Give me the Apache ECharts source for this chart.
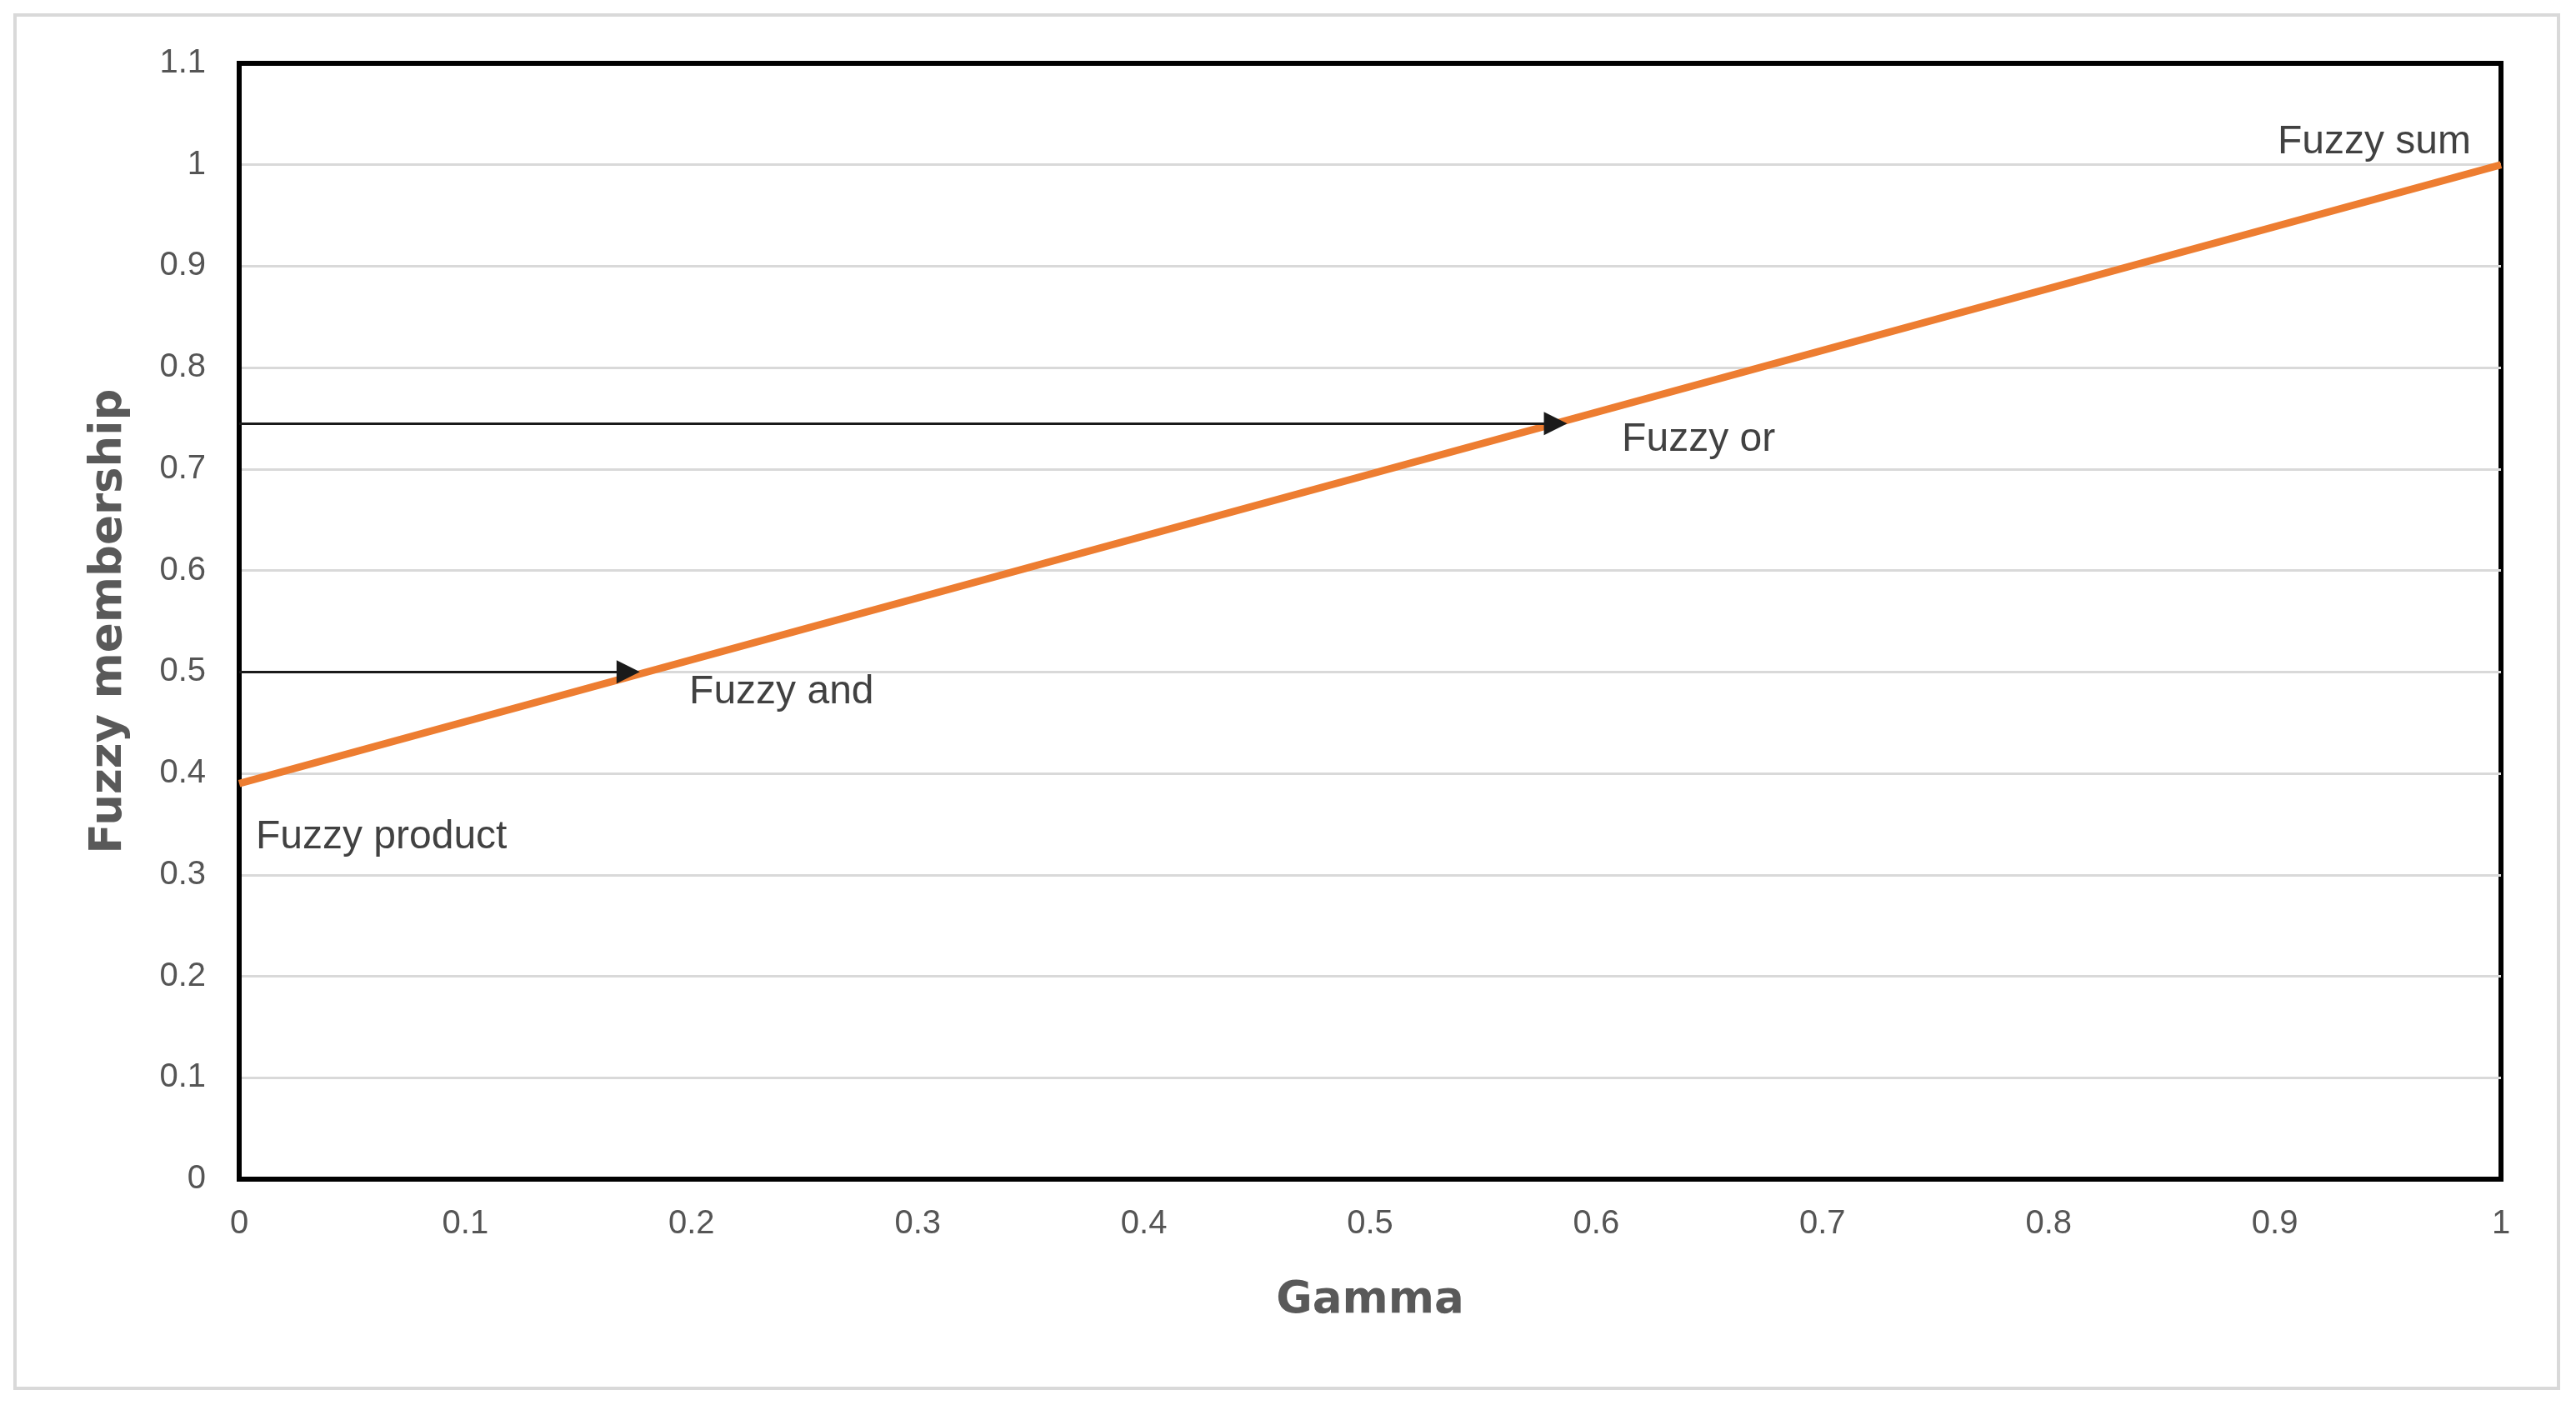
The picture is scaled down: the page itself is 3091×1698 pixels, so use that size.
<!DOCTYPE html>
<html>
<head>
<meta charset="utf-8">
<script src="https://cdn.jsdelivr.net/npm/echarts@6/dist/echarts.min.js"></script>
<style>
  html, body { margin: 0; padding: 0; background: #fff; }
  #fuzzyChart { width: 3091px; height: 1698px; }
</style>
</head>
<body>
<div id="fuzzyChart"></div>
<script>
// gamma operator curve
var gamma = [0, 0.1, 0.2, 0.3, 0.4, 0.5, 0.6, 0.7, 0.8, 0.9, 1];
var membership = [0.39, 0.451, 0.512, 0.573, 0.634, 0.695, 0.756, 0.817, 0.878, 0.939, 1.0];

// annotations (text + the point on the curve they refer to)
var noteNames = ['Fuzzy product', 'Fuzzy and', 'Fuzzy or', 'Fuzzy sum'];
var noteGamma = [0, 0.178, 0.587, 1];
var noteMembership = [0.39, 0.5, 0.745, 1];

// horizontal arrows: level and where the arrow head sits
var arrowLevel = [0.5, 0.745];
var arrowHeadGamma = [0.172, 0.582];

var labelFont = '"Liberation Sans", Arial, sans-serif';
var titleFont = '"DejaVu Sans", Verdana, sans-serif';

// label placement relative to the anchor point (pixels)
var noteStyle = [
  { align: 'left', offset: [20, 65] },
  { align: 'left', offset: [57, 24] },
  { align: 'left', offset: [66, 20] },
  { align: 'right', offset: [-36, -27] }
];

var chart = echarts.init(document.getElementById('fuzzyChart'));

chart.setOption({
  animation: false,
  backgroundColor: '#fff',
  graphic: [{
    type: 'rect',
    shape: { x: 18, y: 18, width: 3052, height: 1648 },
    style: { fill: 'none', stroke: '#d9d9d9', lineWidth: 4 },
    silent: true
  }],
  grid: {
    left: 287,
    right: 90,
    top: 76,
    bottom: 283,
    show: true,
    borderColor: '#000',
    borderWidth: 6,
    backgroundColor: 'transparent'
  },
  xAxis: {
    type: 'value',
    min: 0,
    max: 1,
    interval: 0.1,
    name: 'Gamma',
    nameLocation: 'middle',
    nameGap: 120,
    nameTextStyle: { fontFamily: titleFont, fontWeight: 'bold', fontSize: 53, color: '#595959' },
    axisLine: { show: true, lineStyle: { color: '#000', width: 6 } },
    axisTick: { show: false },
    splitLine: { show: false },
    axisLabel: { fontFamily: labelFont, fontSize: 40, color: '#555', margin: 34 }
  },
  yAxis: {
    type: 'value',
    min: 0,
    max: 1.1,
    interval: 0.1,
    name: 'Fuzzy membership',
    nameLocation: 'middle',
    nameRotate: 90,
    nameGap: 129,
    nameTextStyle: { fontFamily: titleFont, fontWeight: 'bold', fontSize: 53, color: '#595959' },
    axisLine: { show: true, lineStyle: { color: '#000', width: 6 } },
    axisTick: { show: false },
    splitLine: {
      show: true,
      showMinLine: false,
      showMaxLine: false,
      lineStyle: { color: '#d9d9d9', width: 3 }
    },
    axisLabel: { fontFamily: labelFont, fontSize: 40, color: '#555', margin: 40 }
  },
  series: [
    {
      type: 'line',
      data: gamma.map(function (g, i) { return [g, membership[i]]; }),
      symbol: 'none',
      lineStyle: { color: '#ED7D31', width: 9 },
      z: 3,
      markLine: {
        silent: true,
        symbol: ['none', 'triangle'],
        symbolSize: 28,
        label: { show: false },
        lineStyle: { color: '#1a1a1a', width: 3, type: 'solid' },
        itemStyle: { color: '#000' },
        z: 5,
        data: arrowLevel.map(function (y, i) {
          return [{ coord: [0, y] }, { coord: [arrowHeadGamma[i], y] }];
        })
      }
    },
    {
      type: 'scatter',
      symbolSize: 0,
      silent: true,
      z: 4,
      label: {
        show: true,
        formatter: '{b}',
        position: 'inside',
        verticalAlign: 'middle',
        fontFamily: labelFont,
        fontSize: 48,
        color: '#111'
      },
      data: noteNames.map(function (n, i) {
        return {
          name: n,
          value: [noteGamma[i], noteMembership[i]],
          label: noteStyle[i]
        };
      })
    }
  ]
});
</script>
</body>
</html>
